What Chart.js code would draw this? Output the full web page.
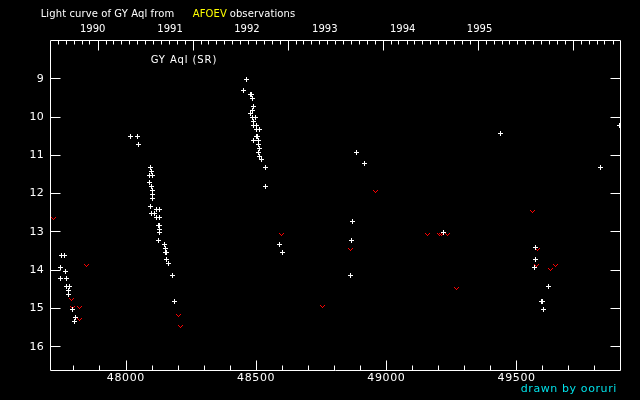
<!DOCTYPE html>
<html>
<head>
<meta charset="utf-8">
<script src="https://cdn.jsdelivr.net/npm/chart.js@4/dist/chart.umd.min.js"></script>
<style>
html,body{margin:0;padding:0;background:#000;}
#wrap{width:640px;height:400px;}
</style>
</head>
<body>
<div id="wrap"><canvas id="c" width="640" height="400"></canvas></div>
<script>
// ---- data (JD - 2400000, visual magnitude) ----
const obsJD = [
  47754,47765,47750,47769,47750,47773,47773,47784,47780,47780,47796,47807,47804,
  48018,48045,48049,48095,48099,48091,48103,48091,48099,48103,48103,48103,48095,48118,48130,48099,48111,48118,48130,48129,48126,48130,48129,48126,48149,48155,48153,48157,48153,48157,48164,48180,48187,
  48464,48452,48483,48481,48487,48491,48488,48479,48488,48500,48491,48493,48502,48502,48514,48506,48504,48491,48510,48510,48514,48510,48513,48516,48520,48537,48537,
  48590,48602,
  48886,48917,48871,48867,48863,
  49220,49439,
  49573,49573,49569,49623,49597,49599,49604,
  49823,49897
];
const obsMag = [
  13.62,13.62,13.94,14.04,14.22,14.22,14.43,14.43,14.54,14.64,15.03,15.24,15.35,
  10.51,10.51,10.72,11.32,11.43,11.53,11.53,11.72,11.82,11.93,12.03,12.13,12.34,12.42,12.42,12.53,12.53,12.63,12.63,12.84,12.84,12.94,13.02,13.23,13.34,13.44,13.44,13.54,13.54,13.73,13.83,14.15,14.82,
  9.03,9.31,9.42,9.42,9.52,9.73,9.84,9.91,10.02,10.02,10.12,10.23,10.23,10.33,10.33,10.51,10.51,10.62,10.62,10.72,10.83,10.93,11.04,11.04,11.12,11.32,11.82,
  13.34,13.54,
  10.93,11.22,12.74,13.23,14.15,
  13.02,10.44,
  13.43,13.73,13.94,14.43,14.82,14.82,15.03,
  11.32,10.23
];
// fainter-than (upper limit) observations
const limJD = [47723,47792,47796,47823,47823,47850,48203,48210,48598,48755,48863,48959,49159,49205,49212,49235,49270,49562,49581,49577,49650,49631];
const limMag = [12.67,14.77,14.98,14.98,15.29,13.88,15.19,15.48,13.07,14.97,13.48,11.97,13.07,13.07,13.07,13.07,14.49,12.47,13.48,13.88,13.88,13.99];

// ---- axes ----
const bottomMajor = [48000,48500,49000,49500];
const bottomLabels = ['48000','48500','49000','49500'];
const magTicks = [9,10,11,12,13,14,15,16];
const yearLabels = ['1990','1991','1992','1993','1994','1995'];
const yearLabelJD = [47874,48171,48466,48765,49064,49359];

const X_MIN = 47710, X_MAX = 49898, Y_MIN = 8.0, Y_MAX = 16.62;

function toJD(y,m,d){ return Date.UTC(y,m,d)/86400000 + 40587.5; }

function makeCross(){
  const c=document.createElement('canvas'); c.width=5; c.height=5;
  const g=c.getContext('2d'); g.fillStyle='#ffffff';
  g.fillRect(2,0,1,5); g.fillRect(0,2,5,1);
  return c;
}
function makeVee(){
  const c=document.createElement('canvas'); c.width=5; c.height=3;
  const g=c.getContext('2d'); g.fillStyle='#ff0000';
  g.fillRect(0,0,1,1); g.fillRect(4,0,1,1);
  g.fillRect(1,1,1,1); g.fillRect(3,1,1,1);
  g.fillRect(2,2,1,1);
  return c;
}

const frame = {
  id:'frame',
  beforeDraw(chart){
    const ctx=chart.ctx;
    ctx.save(); ctx.fillStyle='#000'; ctx.fillRect(0,0,chart.width,chart.height); ctx.restore();
  },
  beforeDatasetsDraw(chart){
    chart.ctx.imageSmoothingEnabled=false;
  },
  afterDatasetsDraw(chart){
    const ctx=chart.ctx, a=chart.chartArea, xs=chart.scales.x, ys=chart.scales.y;
    ctx.save();
    ctx.strokeStyle='#ffffff'; ctx.lineWidth=1;
    const L=a.left+0.5, R=a.right+0.5, T=a.top+0.5, B=a.bottom+0.5;
    ctx.beginPath();
    ctx.moveTo(L,T); ctx.lineTo(R,T); ctx.lineTo(R,B); ctx.lineTo(L,B); ctx.closePath();
    // bottom ticks
    for(let v=47800; v<=49800; v+=100){
      const px=Math.round(xs.getPixelForValue(v))+0.5;
      const len = (v%500===0)?10:5;
      ctx.moveTo(px,B); ctx.lineTo(px,B-len);
    }
    // top ticks: months and years
    for(let yr=1989; yr<=1995; yr++){
      for(let m=0;m<12;m++){
        const jd=toJD(yr,m,1);
        if(jd<X_MIN||jd>X_MAX) continue;
        const px=Math.round(xs.getPixelForValue(jd))+0.5;
        const len=(m===0)?10:4;
        ctx.moveTo(px,T); ctx.lineTo(px,T+len);
      }
    }
    // y ticks both sides
    magTicks.forEach(v=>{
      const py=Math.round(ys.getPixelForValue(v))+0.5;
      ctx.moveTo(L,py); ctx.lineTo(L+10,py);
      ctx.moveTo(R,py); ctx.lineTo(R-10,py);
    });
    ctx.stroke();

    // labels
    ctx.fillStyle='#ffffff';
    ctx.font='11px "DejaVu Sans"';
    ctx.textAlign='right'; ctx.textBaseline='middle';
    ctx.letterSpacing='0.3px';
    magTicks.forEach(v=>{
      ctx.fillText(String(v), a.left-6, ys.getPixelForValue(v)+0.5);
    });
    ctx.textAlign='center'; ctx.textBaseline='alphabetic';
    ctx.letterSpacing='0.6px';
    bottomMajor.forEach((v,i)=>{
      ctx.fillText(bottomLabels[i], xs.getPixelForValue(v)+0.3, 381);
    });
    ctx.letterSpacing='0px';
    ctx.font='10px "DejaVu Sans"';
    yearLabels.forEach((t,i)=>{
      ctx.fillText(t, xs.getPixelForValue(yearLabelJD[i]), 32);
    });
    // title
    ctx.textAlign='left';
    ctx.letterSpacing='0.1px';
    ctx.fillText('Light curve of GY Aql from', 40.7, 17);
    ctx.fillStyle='#ffff00';
    ctx.fillText('AFOEV', 192.7, 17);
    ctx.fillStyle='#ffffff';
    ctx.fillText('observations', 229.7, 17);
    ctx.letterSpacing='0.9px';
    ctx.fillText('GY Aql (SR)', 150.7, 63);
    ctx.font='11px "DejaVu Sans"';
    ctx.letterSpacing='0.6px';
    ctx.fillStyle='#00e0e8';
    ctx.fillText('drawn by ooruri', 520.7, 392);
    ctx.restore();
  }
};

const cross=makeCross(), vee=makeVee();
new Chart(document.getElementById('c'), {
  type:'scatter',
  data:{
    datasets:[
      {label:'visual', data:obsJD.map((x,i)=>({x, y:obsMag[i]})), pointStyle:cross, pointRadius:2, pointHoverRadius:2},
      {label:'fainter than', data:limJD.map((x,i)=>({x, y:limMag[i]})), pointStyle:vee, pointRadius:2, pointHoverRadius:2}
    ]
  },
  options:{
    responsive:false, animation:false, devicePixelRatio:1,
    layout:{padding:{left:50, top:40, right:20, bottom:30}},
    plugins:{legend:{display:false}, tooltip:{enabled:false}, title:{display:false}},
    events:[],
    scales:{
      x:{type:'linear', min:X_MIN, max:X_MAX, display:false},
      y:{type:'linear', min:Y_MIN, max:Y_MAX, reverse:true, display:false}
    }
  },
  plugins:[frame]
});
</script>
</body>
</html>
